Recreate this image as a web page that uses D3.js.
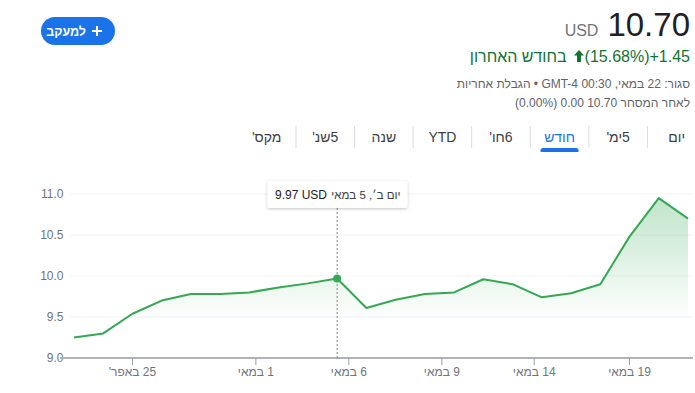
<!DOCTYPE html>
<html>
<head>
<meta charset="utf-8">
<script src="https://cdn.jsdelivr.net/npm/d3@7"></script>
<style>
  body { margin: 0; background: #fff; font-family: Arial, "Liberation Sans", "DejaVu Sans", sans-serif; }
  #wrap { position: relative; width: 695px; height: 393px; overflow: hidden; }
  .hdr { position: absolute; right: 5px; direction: rtl; text-align: right; white-space: nowrap; }
  svg { position: absolute; left: 0; top: 0; }
</style>
</head>
<body>
<div id="wrap"></div>
<script>
// values
const values = [9.25, 9.30, 9.54, 9.70, 9.78, 9.78, 9.80, 9.86, 9.91, 9.97,
                9.61, 9.71, 9.78, 9.80, 9.96, 9.90, 9.74, 9.79, 9.90, 10.48, 10.95, 10.70];
const yTicks = [9.0, 9.5, 10.0, 10.5, 11.0];
const xTickLabels = ["25 באפר'", "1 במאי", "6 במאי", "9 במאי", "14 במאי", "19 במאי"];
const xTickIndex = [2, 6.22, 9.4, 12.58, 15.74, 19];
const hoverIndex = 9;
const hoverLabel = "יום ב׳, 5 במאי";
const tabs = ["יום", "5ימ'", "חודש", "6חו'", "YTD", "שנה", "5שנ'", "מקס'"];
const activeTab = "חודש";
const price = "10.70", currency = "USD", change = "+1.45", changePct = "(15.68%)";

const W = 695, H = 393;
const wrap = d3.select("#wrap");
const svg = wrap.append("svg").attr("width", W).attr("height", H);

const x = d3.scaleLinear().domain([0, values.length - 1]).range([74, 688]);
const y = d3.scaleLinear().domain([9, 11]).range([358, 194]);

const defs = svg.append("defs");
const grad = defs.append("linearGradient")
    .attr("id", "areaGrad")
    .attr("gradientUnits", "userSpaceOnUse")
    .attr("x1", 0).attr("x2", 0)
    .attr("y1", y(11)).attr("y2", y(9.45));
grad.append("stop").attr("offset", "0%").attr("stop-color", "#34a853").attr("stop-opacity", 0.32);
grad.append("stop").attr("offset", "100%").attr("stop-color", "#34a853").attr("stop-opacity", 0);

const shadow = defs.append("filter").attr("id", "tipShadow")
    .attr("x", "-10%").attr("y", "-30%").attr("width", "120%").attr("height", "170%");
shadow.append("feDropShadow").attr("dx", 0).attr("dy", 1).attr("stdDeviation", 1.4)
    .attr("flood-color", "#3c4043").attr("flood-opacity", 0.3);

// put a text's right edge at xr (rtl strings, anchored by their middle)
function rightAt(sel, xr) {
    const w = sel.node().getComputedTextLength();
    sel.attr("x", xr - w / 2);
}

// follow button
svg.append("rect")
    .attr("x", 41).attr("y", 17).attr("width", 74).attr("height", 28).attr("rx", 14)
    .attr("fill", "#1a73e8");
svg.append("path")
    .attr("d", "M92,31H102M97,26V36")
    .attr("stroke", "#fff").attr("stroke-width", 2);
const follow = svg.append("text")
    .attr("y", 35.5)
    .attr("text-anchor", "middle").style("direction", "rtl")
    .attr("fill", "#fff").style("font-size", "12.5px").style("font-weight", "bold")
    .text("למעקב");
rightAt(follow, 86);

// header text
const priceRow = wrap.append("div").attr("class", "hdr")
    .style("direction", "ltr")
    .style("top", "8px").style("font-size", "33px").style("line-height", "33px")
    .style("color", "#202124");
priceRow.append("span")
    .style("font-size", "16px").style("color", "#70757a").style("margin-right", "9px")
    .text(currency);
priceRow.append("span").text(price);

const changeRow = wrap.append("div").attr("class", "hdr")
    .style("top", "49px").style("font-size", "16px").style("line-height", "16px")
    .style("color", "#137333");
changeRow.append("span").attr("dir", "ltr").text(change);
changeRow.append("span").attr("dir", "ltr").text(changePct);
changeRow.append("svg")
    .style("position", "static").style("display", "inline-block")
    .style("margin-right", "1px").style("margin-left", "7px")
    .attr("width", 10).attr("height", 12)
    .append("path")
    .attr("d", "M5,0L10,5.5H7V12H3V5.5H0Z")
    .attr("fill", "#137333");
changeRow.append("span").text("בחודש האחרון");

wrap.append("div").attr("class", "hdr")
    .style("top", "78px").style("font-size", "12px").style("line-height", "12px")
    .style("color", "#5f6368")
    .text("סגור: 22 במאי, 00:30 GMT-4 • הגבלת אחריות");

wrap.append("div").attr("class", "hdr")
    .style("top", "97px").style("font-size", "12px").style("line-height", "12px")
    .style("color", "#5f6368")
    .text("לאחר המסחר 10.70 0.00 (0.00%)");

// range tabs
const tabX = d3.scalePoint().domain(tabs).range([676.7, 266.7]);
const step = tabX.step();
svg.append("g").selectAll("line")
    .data(tabs.slice(1))
    .enter().append("line")
    .attr("x1", d => tabX(d) + step / 2).attr("x2", d => tabX(d) + step / 2)
    .attr("y1", 126).attr("y2", 148)
    .attr("stroke", "#dadce0");
svg.append("g").selectAll("text")
    .data(tabs)
    .enter().append("text")
    .attr("x", d => tabX(d)).attr("y", 142)
    .attr("text-anchor", "middle").style("direction", "rtl")
    .style("font-size", "14px")
    .attr("fill", d => d === activeTab ? "#1a73e8" : "#3c4043")
    .text(d => d);
const ax = tabX(activeTab);
svg.append("path")
    .attr("d", `M${ax - 19},152V150.5Q${ax - 19},148 ${ax - 16.5},148H${ax + 16.5}Q${ax + 19},148 ${ax + 19},150.5V152Z`)
    .attr("fill", "#1a73e8");

// grid
svg.append("g").selectAll("line")
    .data(yTicks.slice(1))
    .enter().append("line")
    .attr("x1", 70).attr("x2", 693)
    .attr("y1", d => y(d)).attr("y2", d => y(d))
    .attr("stroke", "#f1f3f4");

svg.append("g").selectAll("text")
    .data(yTicks)
    .enter().append("text")
    .attr("x", 63.5).attr("y", d => y(d)).attr("dy", "0.36em")
    .attr("text-anchor", "end")
    .style("font-size", "12px").attr("fill", "#70757a")
    .text(d => d.toFixed(1));

// area + line
svg.append("path")
    .datum(values)
    .attr("d", d3.area().x((d, i) => x(i)).y0(y(9)).y1(d => y(d)))
    .attr("fill", "url(#areaGrad)");

svg.append("path")
    .datum(values)
    .attr("d", d3.line().x((d, i) => x(i)).y(d => y(d)))
    .attr("fill", "none")
    .attr("stroke", "#34a853").attr("stroke-width", 2)
    .attr("stroke-linejoin", "round");

// x axis
svg.append("line")
    .attr("x1", 60).attr("x2", 693).attr("y1", y(9)).attr("y2", y(9))
    .attr("stroke", "#b0b3b8").attr("stroke-width", 2);
const xt = svg.append("g").selectAll("g")
    .data(xTickLabels)
    .enter().append("g")
    .attr("transform", (d, i) => `translate(${x(xTickIndex[i])},0)`);
xt.append("line")
    .attr("y1", y(9)).attr("y2", y(9) + 7)
    .attr("stroke", "#9aa0a6");
xt.append("text")
    .attr("y", 376).attr("text-anchor", "middle").style("direction", "rtl")
    .style("font-size", "12px").attr("fill", "#70757a")
    .text(d => d);

// hover marker + tooltip
const hx = x(hoverIndex);
svg.append("line")
    .attr("x1", hx).attr("x2", hx).attr("y1", 208).attr("y2", y(9))
    .attr("stroke", "#80868b").attr("stroke-dasharray", "2,2");
svg.append("circle")
    .attr("cx", hx).attr("cy", y(values[hoverIndex])).attr("r", 4)
    .attr("fill", "#34a853");

const tip = svg.append("g");
tip.append("rect")
    .attr("x", 267.5).attr("y", 181).attr("width", 140).attr("height", 27).attr("rx", 2)
    .attr("fill", "#fff").attr("filter", "url(#tipShadow)");
tip.append("text")
    .attr("x", 275).attr("y", 199)
    .style("font-size", "12px").style("font-weight", "500").attr("fill", "#202124")
    .text(values[hoverIndex].toFixed(2) + " " + currency);
const tipDate = tip.append("text")
    .attr("y", 199)
    .attr("text-anchor", "middle").style("direction", "rtl")
    .style("font-size", "11.5px").attr("fill", "#3c4043")
    .text(hoverLabel);
rightAt(tipDate, 400.5);
</script>
</body>
</html>
